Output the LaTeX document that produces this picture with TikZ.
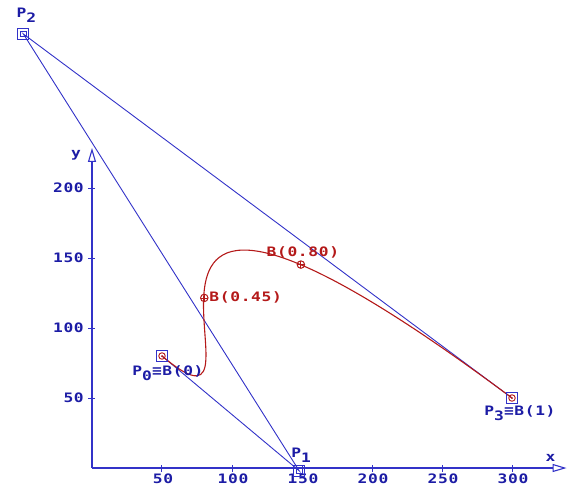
\documentclass[tikz,border=0pt]{standalone}
\usepackage{fontspec}
\newfontfamily\lbl[FakeStretch=1.25, LetterSpace=5]{DejaVu Sans Mono Bold}
\usetikzlibrary{arrows.meta,calc}
\definecolor{lblue}{RGB}{50,50,200}
\definecolor{tblue}{RGB}{28,28,165}
\definecolor{cred}{RGB}{180,25,25}
\newcommand\lsub[1]{\raisebox{-5pt}{#1}}
\tikzset{
  lbltxt/.style={font=\lbl\fontsize{13}{13}\selectfont, text=tblue, inner sep=0pt},
  redtxt/.style={lbltxt, text=cred},
  poly/.style={draw=lblue, line width=0.9pt},
  curvestyle/.style={draw=cred, line width=1.1pt},
  axis/.style={draw=lblue, line width=1.4pt},
  sqmark/.style={rectangle, draw=lblue, line width=1.2pt, minimum size=11pt, inner sep=0pt},
  insq/.style={rectangle, draw=lblue, line width=0.8pt, minimum size=5.5pt, inner sep=0pt},
  incirc/.style={circle, draw=cred, line width=0.9pt, minimum size=6.5pt, inner sep=0pt,
    path picture={\fill[cred] (path picture bounding box.center) circle (1pt);}},
  bpt/.style={circle, draw=cred, line width=1pt, minimum size=7.5pt, inner sep=0pt,
    path picture={\draw[cred, line width=0.8pt]
      (path picture bounding box.north) -- (path picture bounding box.south)
      (path picture bounding box.west) -- (path picture bounding box.east);}},
  axarrow/.style={-{Triangle[open, length=14pt, width=8pt, line width=1.1pt]}}
}
\begin{document}
\begin{tikzpicture}[x=1.4pt, y=1.4pt]
\useasboundingbox (-65.714,-11.429) rectangle (341.43,334.29);
% control points
\coordinate (p0) at (50,80);
\coordinate (p1) at (148,-2);
\coordinate (p2) at (-49,310);
\coordinate (p3) at (300,50);
\coordinate (o) at (0,0);
\coordinate (xe) at (339,0);
\coordinate (ye) at (0,228.6);
% axes
\draw[axis, axarrow] (o) -- (xe);
\draw[axis, axarrow] (o) -- (ye);
\foreach \v in {50,100,150,200,250,300} {
  \draw[axis, line width=1pt] (\v,-2.5) -- (\v,2.5);
  \node[lbltxt, anchor=north] at ($(\v,0)+(1pt,-6pt)$) {\v};
}
\foreach \v in {50,100,150,200} {
  \draw[axis, line width=1pt] (-2.5,\v) -- (2.5,\v);
  \node[lbltxt, anchor=east] at ($(0,\v)+(-8pt,0)$) {\v};
}
\node[lbltxt] (xl) at ($(xe)+(-16pt,10pt)$) {x};
\node[lbltxt] (yl) at ($(ye)+(-16pt,-7pt)$) {y};
% control polygon
\draw[poly] (p0) -- (p1) -- (p2) -- (p3);
% Bezier curve
\draw[curvestyle] (p0) .. controls (p1) and (p2) .. (p3);
% markers
\node[sqmark] (m0) at (p0) {};
\node[incirc] at (p0) {};
\node[sqmark] (m1) at (p1) {};
\node[insq] at (p1) {};
\node[sqmark] (m2) at (p2) {};
\node[insq] at (p2) {};
\node[sqmark] (m3) at (p3) {};
\node[incirc] at (p3) {};
% curve points
\coordinate (b45) at (80.2,121.5);
\coordinate (b80) at (149.2,145.3);
\node[bpt] (q45) at (b45) {};
\node[bpt] (q80) at (b80) {};
% labels
\node[lbltxt] (l2) at ($(p2)+(3pt,19pt)$) {P\lsub{2}};
\node[lbltxt] (l1) at ($(p1)+(2pt,16pt)$) {P\lsub{1}};
\node[lbltxt] (l0) at ($(p0)+(6pt,-17pt)$) {P\lsub{0}≡B(0)};
\node[lbltxt] (l3) at ($(p3)+(8pt,-15pt)$) {P\lsub{3}≡B(1)};
\node[redtxt, anchor=west] (t45) at ($(b45)+(5pt,0)$) {B(0.45)};
\node[redtxt] (t80) at ($(b80)+(2pt,12pt)$) {B(0.80)};
\end{tikzpicture}
\end{document}
